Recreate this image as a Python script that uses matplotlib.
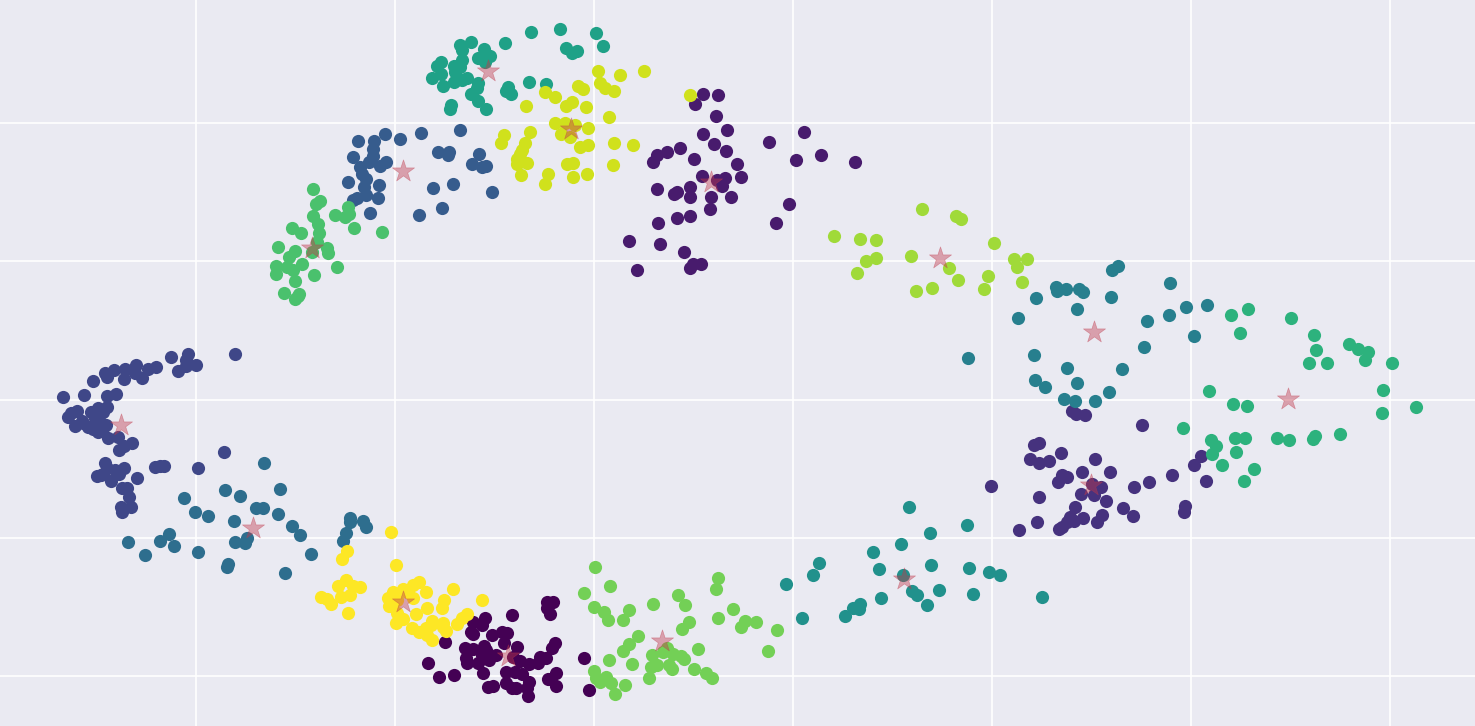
"""KMeans-style cluster scatter on a seaborn-like background."""

import matplotlib
matplotlib.use("Agg")
import matplotlib.pyplot as plt
import numpy as np

# cluster points, in picture units (x grows right, y grows down)
c0 = [(512,615),(547,602),(553,602),(547,608),(550,614),(485,618),(473,622),(482,625),(471,632),(473,634),(492,635),(502,632),(507,633),(504,643),(445,642),(555,643),(552,648),(517,647),(465,648),(473,649),(484,646),(486,650),(482,655),(496,655),(466,658),(467,663),(478,663),(489,660),(513,657),(520,661),(529,664),(538,663),(540,657),(546,658),(584,658),(428,663),(439,677),(454,675),(483,673),(506,672),(515,672),(522,674),(548,679),(556,673),(556,686),(529,682),(527,688),(528,696),(506,683),(512,688),(516,688),(488,687),(493,686),(589,690)]
c1 = [(703,94),(718,95),(695,104),(716,116),(727,130),(703,134),(714,144),(680,148),(667,152),(657,155),(653,162),(694,159),(726,151),(737,164),(769,142),(804,132),(796,160),(821,155),(855,162),(741,177),(725,178),(717,180),(702,176),(722,186),(690,187),(677,192),(674,194),(657,189),(690,197),(711,197),(731,197),(710,209),(789,204),(690,216),(677,218),(658,223),(776,223),(629,241),(660,244),(684,252),(693,264),(701,264),(690,268),(637,270)]
c2 = [(1072,411),(1076,414),(1085,415),(1142,425),(1034,445),(1039,443),(1061,453),(1030,459),(1039,463),(1049,461),(1095,459),(1201,456),(1194,465),(1082,472),(1110,472),(1062,475),(1067,477),(1058,482),(1172,475),(1206,481),(1149,482),(1134,487),(1101,487),(1092,484),(991,486),(1081,494),(1094,495),(1039,497),(1106,501),(1075,507),(1123,508),(1185,506),(1184,512),(1133,516),(1102,515),(1097,522),(1070,517),(1083,518),(1074,521),(1067,522),(1062,527),(1059,529),(1037,522),(1019,530)]
c3 = [(235,354),(188,354),(186,360),(186,366),(196,365),(171,357),(178,371),(156,367),(148,369),(136,365),(135,373),(125,369),(124,379),(142,378),(114,370),(105,373),(107,377),(93,381),(63,397),(84,395),(107,396),(116,394),(77,411),(71,413),(68,417),(75,426),(91,412),(98,408),(107,407),(97,413),(103,412),(83,423),(88,427),(93,429),(98,432),(106,425),(100,422),(95,418),(82,421),(103,428),(108,438),(118,437),(132,443),(124,446),(119,450),(105,463),(107,468),(115,470),(124,468),(119,474),(103,474),(97,476),(101,475),(111,481),(137,478),(122,488),(127,488),(129,497),(131,507),(121,507),(122,512),(155,467),(160,466),(164,466),(198,468),(224,452)]
c4 = [(460,130),(421,133),(400,139),(385,134),(374,141),(358,141),(373,149),(373,156),(353,157),(369,162),(386,162),(380,166),(360,167),(362,174),(366,179),(348,182),(379,185),(364,187),(366,195),(378,198),(357,198),(353,200),(370,213),(438,152),(449,152),(448,155),(479,154),(472,164),(482,167),(486,166),(453,184),(433,188),(492,192),(442,208),(419,215)]
c5 = [(264,463),(225,490),(240,496),(280,489),(184,498),(195,512),(208,516),(256,508),(263,508),(278,514),(234,521),(292,526),(300,535),(247,538),(235,542),(245,543),(128,542),(169,534),(160,541),(174,546),(145,555),(198,552),(228,564),(227,567),(311,554),(285,573),(350,518),(350,522),(363,521),(366,527),(346,533),(343,541)]
c6 = [(1112,270),(1118,266),(1170,283),(1056,287),(1057,291),(1066,289),(1079,289),(1083,292),(1111,297),(1036,298),(1077,309),(1018,318),(1147,321),(1169,315),(1186,307),(1207,305),(1194,336),(1144,347),(1034,355),(1067,368),(1122,369),(1035,380),(1045,387),(1077,383),(1109,392),(1064,399),(1075,401),(1095,401),(968,358)]
c7 = [(909,507),(930,533),(967,525),(901,544),(873,552),(819,563),(813,575),(786,584),(879,569),(931,565),(969,568),(989,572),(1000,575),(903,575),(912,591),(917,595),(939,590),(927,605),(881,598),(860,604),(853,608),(859,609),(845,616),(802,618),(973,594),(1042,597)]
c8 = [(531,32),(560,29),(596,33),(603,46),(566,48),(572,53),(577,51),(505,43),(471,42),(460,45),(462,50),(484,49),(490,56),(478,58),(485,62),(462,60),(441,62),(437,66),(454,66),(455,72),(460,67),(441,74),(432,78),(443,86),(454,82),(462,80),(467,78),(478,83),(477,88),(471,94),(478,101),(486,109),(451,105),(450,109),(508,87),(506,91),(511,94),(529,82),(546,84)]
c9 = [(1231,315),(1248,309),(1291,318),(1240,333),(1314,335),(1316,350),(1309,363),(1327,363),(1349,344),(1358,349),(1368,352),(1365,360),(1392,363),(1383,390),(1382,413),(1416,407),(1209,391),(1233,404),(1247,406),(1183,428),(1211,440),(1216,446),(1212,454),(1235,438),(1245,438),(1236,452),(1222,465),(1254,469),(1244,481),(1277,438),(1289,440),(1313,439),(1315,436),(1340,434)]
c10 = [(313,189),(320,201),(316,204),(313,216),(348,207),(335,215),(349,214),(345,217),(318,224),(292,228),(301,233),(354,228),(382,232),(319,233),(317,242),(278,247),(327,248),(328,253),(295,251),(289,257),(312,252),(302,264),(276,266),(287,267),(293,270),(276,274),(337,267),(314,275),(295,281),(284,293),(299,294),(295,299),(298,296)]
c11 = [(595,567),(610,586),(584,593),(594,607),(604,612),(608,620),(623,620),(629,610),(653,604),(678,595),(685,605),(689,622),(682,629),(718,578),(716,589),(733,609),(718,618),(745,621),(741,627),(638,636),(629,644),(623,651),(609,660),(632,664),(652,655),(663,652),(667,648),(673,654),(681,656),(684,659),(698,649),(651,667),(657,665),(669,665),(672,669),(694,669),(706,673),(712,678),(649,678),(594,671),(596,678),(600,682),(606,677),(611,683),(625,685),(615,694),(756,622),(777,630),(768,651)]
c12 = [(922,209),(956,216),(961,219),(834,236),(860,239),(876,240),(994,243),(866,261),(876,258),(911,256),(1014,259),(1027,259),(1017,267),(949,268),(988,276),(857,273),(958,280),(1022,282),(916,291),(932,288),(984,289)]
c13 = [(690,95),(598,71),(620,75),(644,71),(578,86),(583,89),(600,83),(605,88),(614,91),(545,92),(555,97),(572,102),(566,106),(586,107),(526,106),(609,117),(555,123),(565,123),(575,125),(588,128),(561,134),(570,137),(530,132),(504,135),(501,143),(525,143),(522,150),(520,154),(517,159),(517,164),(527,163),(588,145),(580,147),(614,143),(633,145),(567,164),(573,163),(613,165),(521,175),(548,174),(545,184),(573,177),(587,174)]
c14 = [(391,532),(347,551),(342,559),(396,565),(346,580),(338,586),(353,586),(360,587),(321,597),(327,599),(331,604),(341,597),(350,595),(348,613),(419,582),(413,585),(403,589),(393,592),(388,598),(389,606),(397,600),(407,592),(413,598),(426,592),(453,589),(482,600),(444,600),(442,608),(427,608),(416,614),(403,619),(397,613),(396,623),(412,628),(419,632),(426,628),(432,621),(431,625),(427,635),(432,640),(443,623),(443,627),(446,631),(457,624),(462,618),(467,614)]
clusters = [c0, c1, c2, c3, c4, c5, c6, c7, c8, c9, c10, c11, c12, c13, c14]

centers_x = [508, 711, 1091, 121, 403, 253, 1094, 904, 488, 1288, 312, 662, 940, 571, 403]
centers_y = [656, 182, 485, 425, 171, 528, 332, 579, 71, 399, 248, 641, 258, 129, 602]

grid_x = [196, 395, 594, 793, 992, 1191, 1390]
grid_y = [123, 261, 400, 538, 676]


def main() -> None:
    fig = plt.figure(figsize=(14.75, 7.26), dpi=100)
    ax = fig.add_axes([0, 0, 1, 1])
    ax.set_facecolor("#eaeaf2")
    ax.set_axisbelow(True)

    for i, pts in enumerate(clusters):
        xy = np.array(pts)
        ax.scatter(xy[:, 0], xy[:, 1], s=90, color=plt.cm.viridis(i / 14), linewidths=0)
    ax.scatter(centers_x, centers_y, s=280, marker="*", color="#c0394b", alpha=0.42, linewidths=0.5)

    ax.set_xlim(0, 1475)
    ax.set_ylim(726, 0)
    ax.set_xticks(grid_x)
    ax.set_yticks(grid_y)
    ax.tick_params(length=0, labelbottom=False, labelleft=False)
    ax.grid(True, color="white", linewidth=1.2)
    for spine in ax.spines.values():
        spine.set_visible(False)

    fig.savefig("out.png", dpi=100)
    plt.close(fig)


if __name__ == "__main__":
    main()
